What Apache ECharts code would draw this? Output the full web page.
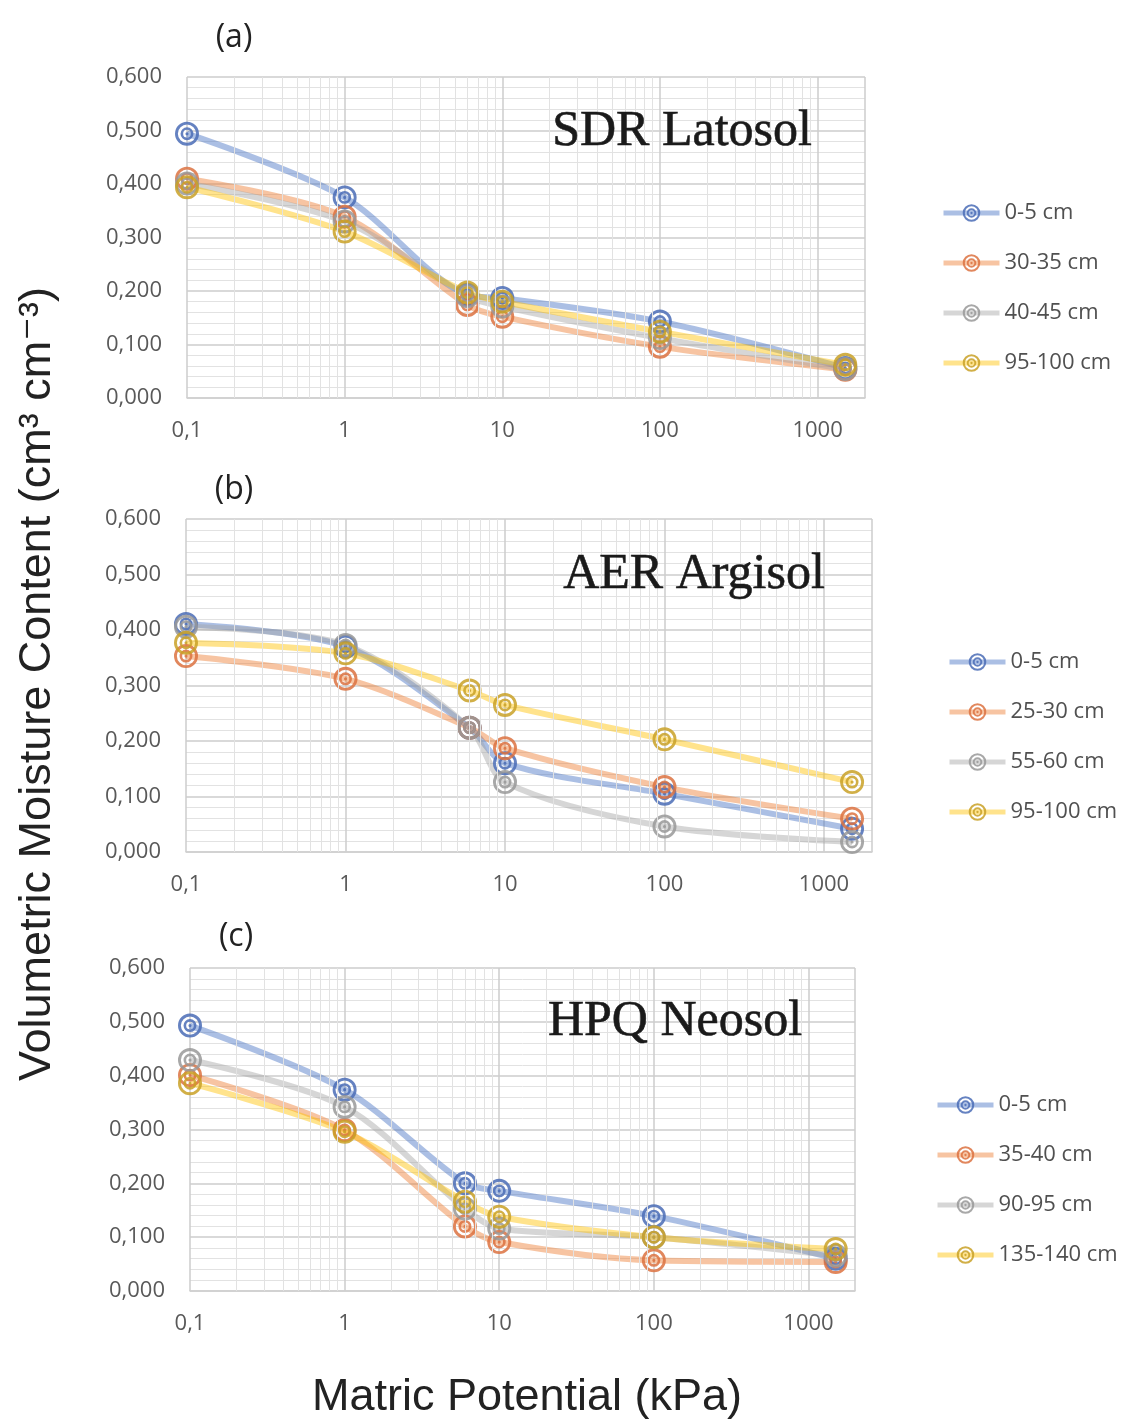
<!DOCTYPE html>
<html>
<head>
<meta charset="utf-8">
<title>Water retention curves</title>
<script src="https://cdn.jsdelivr.net/npm/echarts@6/dist/echarts.min.js"></script>
<style>
  body { margin: 0; background: #fff; }
  #chart { width: 1122px; height: 1428px; }
</style>
</head>
<body>
<div id="chart"></div>
<script>
// matric potential (kPa) of the six measurement points
const kPa = [0.1, 1, 6, 10, 100, 1500];

// (a) SDR Latosol
const sdrDepths = ['0-5 cm', '30-35 cm', '40-45 cm', '95-100 cm'];
const sdr_0_5 = [0.494, 0.375, 0.193, 0.187, 0.143, 0.056];
const sdr_30_35 = [0.410, 0.339, 0.174, 0.152, 0.096, 0.053];
const sdr_40_45 = [0.401, 0.330, 0.190, 0.171, 0.112, 0.054];
const sdr_95_100 = [0.394, 0.311, 0.197, 0.180, 0.124, 0.062];

// (b) AER Argisol
const aerDepths = ['0-5 cm', '25-30 cm', '55-60 cm', '95-100 cm'];
const aer_0_5 = [0.411, 0.370, 0.224, 0.160, 0.105, 0.042];
const aer_25_30 = [0.353, 0.312, 0.224, 0.187, 0.117, 0.060];
const aer_55_60 = [0.406, 0.373, 0.224, 0.126, 0.046, 0.018];
const aer_95_100 = [0.377, 0.358, 0.291, 0.265, 0.203, 0.126];

// (c) HPQ Neosol
const hpqDepths = ['0-5 cm', '35-40 cm', '90-95 cm', '135-140 cm'];
const hpq_0_5 = [0.493, 0.374, 0.200, 0.186, 0.139, 0.060];
const hpq_35_40 = [0.401, 0.299, 0.120, 0.091, 0.057, 0.054];
const hpq_90_95 = [0.429, 0.342, 0.153, 0.116, 0.100, 0.066];
const hpq_135_140 = [0.386, 0.296, 0.166, 0.138, 0.100, 0.078];

const yTicks = [0, 0.6, 0.1];   // min, max, step
const xRange = [0.1, 2000];

// excel-like palette
const lineColors = ['#4472C4', '#ED7D31', '#A5A5A5', '#FFC000'];
const markColors = ['#4a6cb6', '#dc7241', '#999999', '#c9a127'];

// target marker: outer ring, inner ring, small dot
function ring(R, r) {
  return 'M0,' + (-R) + 'A' + R + ',' + R + ' 0 1,1 0,' + R + 'A' + R + ',' + R + ' 0 1,1 0,' + (-R) + 'Z' +
         'M0,' + (-r) + 'A' + r + ',' + r + ' 0 1,0 0,' + r + 'A' + r + ',' + r + ' 0 1,0 0,' + (-r) + 'Z';
}
const targetSymbol = 'path://' + ring(10, 7.6) + ring(5.4, 3.2) +
  'M0,-1.3A1.3,1.3 0 1,1 0,1.3A1.3,1.3 0 1,1 0,-1.3Z';

// minor log grid lines 2..9 of each decade
const minorX = [];
[0.1, 1, 10, 100, 1000].forEach(d => {
  for (let k = 2; k <= 9; k++) {
    if (k * d < xRange[1]) minorX.push(k * d);
  }
});

const panels = [
  { letter: '(a)', soil: 'SDR Latosol', depths: sdrDepths, values: [sdr_0_5, sdr_30_35, sdr_40_45, sdr_95_100],
    grid: { left: 187, top: 77, width: 678, height: 321 }, soilPos: [682, 132], letterPos: [234, 38],
    legendPos: [936, 197] },
  { letter: '(b)', soil: 'AER Argisol', depths: aerDepths, values: [aer_0_5, aer_25_30, aer_55_60, aer_95_100],
    grid: { left: 186, top: 519, width: 686, height: 333 }, soilPos: [694, 575], letterPos: [234, 490],
    legendPos: [942, 646] },
  { letter: '(c)', soil: 'HPQ Neosol', depths: hpqDepths, values: [hpq_0_5, hpq_35_40, hpq_90_95, hpq_135_140],
    grid: { left: 190, top: 968, width: 665, height: 323 }, soilPos: [675, 1022], letterPos: [236, 937],
    legendPos: [930, 1089] }
];

const labelFont = { fontFamily: 'Open Sans', fontSize: 22, color: '#595959' };

const grids = [], xAxes = [], yAxes = [], series = [], legends = [], graphics = [];

panels.forEach((p, i) => {
  grids.push(p.grid);

  xAxes.push({
    type: 'log', gridIndex: i, logBase: 10, min: xRange[0], max: xRange[1],
    axisLine: { show: true, lineStyle: { color: '#cfcfcf', width: 1.5 } },
    axisTick: { show: false },
    axisLabel: Object.assign({}, labelFont, {
      margin: 22, showMaxLabel: false,
      formatter: v => (v < 1 ? '0,1' : String(Math.round(v)))
    }),
    splitLine: { show: true, lineStyle: { color: '#cccccc', width: 1.5 } }
  });

  yAxes.push({
    type: 'value', gridIndex: i, min: yTicks[0], max: yTicks[1], interval: yTicks[2],
    axisLine: { show: false },
    axisTick: { show: false },
    axisLabel: Object.assign({}, labelFont, {
      margin: 25,
      formatter: v => v.toFixed(3).replace('.', ',')
    }),
    splitLine: { show: true, lineStyle: { color: '#cccccc', width: 1.5 } },
    minorTick: { show: false, splitNumber: 5 },
    minorSplitLine: { show: true, lineStyle: { color: '#e2e2e2', width: 1 } }
  });

  // carrier for the vertical minor grid
  series.push({
    type: 'line', name: 'grid' + i, xAxisIndex: i, yAxisIndex: i, data: [], z: 1, silent: true,
    markLine: {
      silent: true, symbol: ['none', 'none'], label: { show: false },
      lineStyle: { color: '#e2e2e2', width: 1, type: 'solid' },
      emphasis: { disabled: true },
      data: minorX.map(v => ({ xAxis: v }))
    }
  });

  p.depths.forEach((name, j) => {
    series.push({
      type: 'line', name: name, xAxisIndex: i, yAxisIndex: i, z: 2,
      data: kPa.map((x, k) => [x, p.values[j][k]]),
      smooth: 0.3,
      symbol: targetSymbol, symbolSize: 24,
      lineStyle: { color: lineColors[j], width: 6, opacity: 0.45 },
      itemStyle: { color: markColors[j], opacity: 0.85 }
    });
  });

  legends.push({
    data: p.depths, orient: 'vertical', left: p.legendPos[0], top: p.legendPos[1],
    itemWidth: 56, itemHeight: 22, itemGap: 28, selectedMode: false,
    lineStyle: { width: 5, opacity: 0.45 },
    textStyle: { fontFamily: 'Open Sans', fontSize: 22, color: '#505050', lineHeight: 22 }
  });

  graphics.push({
    type: 'text', x: p.letterPos[0], y: p.letterPos[1],
    style: { text: p.letter, font: '32px "Open Sans"', fill: '#222', align: 'center', verticalAlign: 'middle' }
  });
  graphics.push({
    type: 'text', x: p.soilPos[0], y: p.soilPos[1], z: 10,
    style: { text: p.soil, font: '50px "Liberation Serif"', fill: '#1a1a1a', stroke: '#1a1a1a', lineWidth: 0.6,
             align: 'center', verticalAlign: 'middle' }
  });
});

// shared axis titles
graphics.push({
  type: 'text', x: 38, y: 684, rotation: Math.PI / 2,
  style: { text: 'Volumetric Moisture Content (cm³ cm⁻³)', font: '45px "Liberation Sans", "DejaVu Sans"',
           fill: '#222', align: 'center', verticalAlign: 'middle' }
});
graphics.push({
  type: 'text', x: 527, y: 1398,
  style: { text: 'Matric Potential (kPa)', font: '45px "Liberation Sans"', fill: '#222',
           align: 'center', verticalAlign: 'middle' }
});

const chart = echarts.init(document.getElementById('chart'));
chart.setOption({
  backgroundColor: '#fff',
  animation: false,
  grid: grids,
  xAxis: xAxes,
  yAxis: yAxes,
  legend: legends,
  series: series,
  graphic: graphics
});
</script>
</body>
</html>
